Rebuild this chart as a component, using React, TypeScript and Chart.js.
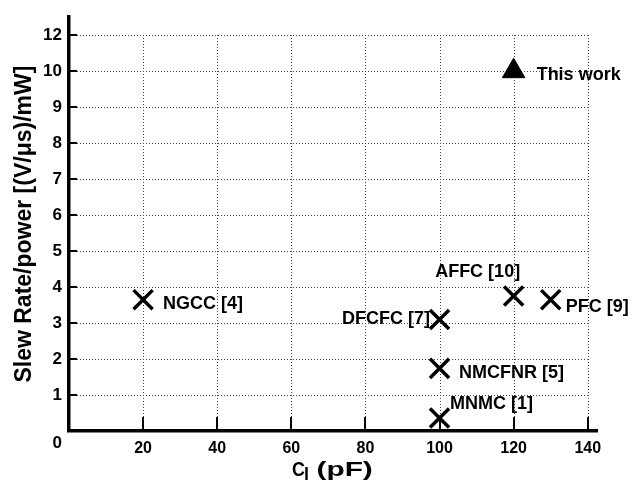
import React, { useEffect, useRef } from 'react';
import { Chart, registerables } from 'chart.js';

Chart.register(...registerables);

// ---- data ----
const priorNames = ['NGCC [4]', 'DFCFC [7]', 'NMCFNR [5]', 'MNMC [1]', 'AFFC [10]', 'PFC [9]'];
const priorCL = [20, 100, 100, 100, 120, 130];
const priorSR = [3.65, 3.1, 1.74, 0.36, 3.75, 3.65];

const thisWorkNames = ['This work'];
const thisWorkCL = [120];
const thisWorkSR = [10];

const xTickLabels = ['', '20', '40', '60', '80', '100', '120', '140'];
const yTickLabels = ['0', '1', '2', '3', '4', '5', '6', '7', '8', '9', '10', '12'];

const yTitle = 'Slew Rate/power [(V/\u03bcs)/mW]';
const xTitleMain = 'C';
const xTitleSub = 'l';
const xTitleUnit = '(pF)';

// ---- styling / placement (pixels relative to each mark) ----
const priorLabelPlacement = [
  { dx: 20, dy: 3, align: 'left' },
  { dx: -9.5, dy: -2, align: 'right' },
  { dx: 19.5, dy: 3.5, align: 'left' },
  { dx: 10.5, dy: -15, align: 'left' },
  { dx: -36, dy: -25, align: 'center' },
  { dx: 15, dy: 5.5, align: 'left' },
];
const thisWorkPlacement = [{ dx: 23, dy: 2.7, align: 'left' }];

const FONT = '"Liberation Sans", Arial, Helvetica, sans-serif';

const decor = {
  id: 'decor',
  beforeDatasetsDraw(chart: any) {
    const { ctx } = chart;
    const x = chart.scales.x;
    const y = chart.scales.y;
    const xt = x.ticks.map((t: any) => t.value);
    const yt = y.ticks.map((t: any) => t.value);
    const x0 = x.getPixelForValue(0);
    const x1 = x.getPixelForValue(xt[xt.length - 1]);
    const y0 = y.getPixelForValue(0);
    const y1 = y.getPixelForValue(yt[yt.length - 1]);
    ctx.save();
    ctx.strokeStyle = '#444';
    ctx.lineWidth = 1;
    ctx.setLineDash([1, 2]);
    for (const v of xt) {
      if (v === 0) continue;
      const px = Math.round(x.getPixelForValue(v)) + 0.5;
      ctx.beginPath();
      ctx.moveTo(px, y0 - 2);
      ctx.lineTo(px, y1);
      ctx.stroke();
    }
    for (const v of yt) {
      if (v === 0) continue;
      const py = Math.round(y.getPixelForValue(v)) + 0.5;
      ctx.beginPath();
      ctx.moveTo(x0 + 2, py);
      ctx.lineTo(x1, py);
      ctx.stroke();
    }
    ctx.setLineDash([]);
    ctx.strokeStyle = '#000';
    ctx.lineWidth = 2;
    for (const v of xt) {
      if (v === 0) continue;
      const px = Math.round(x.getPixelForValue(v));
      ctx.beginPath();
      ctx.moveTo(px, y0);
      ctx.lineTo(px, y0 - 14);
      ctx.stroke();
    }
    for (const v of yt) {
      if (v === 0) continue;
      const py = Math.round(y.getPixelForValue(v));
      ctx.beginPath();
      ctx.moveTo(x0, py);
      ctx.lineTo(x0 + 8, py);
      ctx.stroke();
    }
    ctx.restore();
  },
  afterDatasetsDraw(chart: any) {
    const { ctx } = chart;
    ctx.save();
    ctx.fillStyle = '#000';
    ctx.font = `bold 18px ${FONT}`;
    ctx.textBaseline = 'alphabetic';
    const drawLabels = (dsIndex: number, names: string[], place: any[]) => {
      const meta = chart.getDatasetMeta(dsIndex);
      meta.data.forEach((el: any, i: number) => {
        const p = place[i];
        ctx.textAlign = p.align;
        ctx.fillText(names[i], el.x + p.dx, el.y + p.dy + 6.4);
      });
    };
    drawLabels(0, priorNames, priorLabelPlacement);
    drawLabels(1, thisWorkNames, thisWorkPlacement);

    // x-axis title with subscript
    const ca = chart.chartArea;
    const base = 476;
    ctx.textAlign = 'left';
    let cx = 292;
    ctx.font = `bold 21px ${FONT}`;
    ctx.save();
    ctx.translate(cx, base);
    ctx.scale(0.85, 1);
    ctx.fillText(xTitleMain, 0, 0);
    const wC = ctx.measureText(xTitleMain).width * 0.85;
    ctx.restore();
    cx += wC - 1;
    ctx.font = `bold 18px ${FONT}`;
    ctx.fillText(xTitleSub, cx, base + 4);
    cx = 316.5;
    ctx.font = `bold 21px ${FONT}`;
    ctx.save();
    ctx.translate(cx, base);
    ctx.scale(1.42, 1);
    ctx.fillText(xTitleUnit, 0, 0);
    ctx.restore();
    void ca;
    ctx.restore();
  },
};

export default function App() {
  const ref = useRef<HTMLCanvasElement | null>(null);
  useEffect(() => {
    if (!ref.current) return;
    const chart = new Chart(ref.current, {
      type: 'scatter',
      data: {
        datasets: [
          {
            label: 'Prior works',
            data: priorCL.map((c, i) => ({ x: c, y: priorSR[i] })),
            pointStyle: 'crossRot',
            pointRadius: 13.5,
            pointBorderWidth: 3.5,
            borderColor: '#000',
            backgroundColor: '#000',
            clip: false,
          } as any,
          {
            label: 'This work',
            data: thisWorkCL.map((c, i) => ({ x: c, y: thisWorkSR[i] })),
            pointStyle: 'triangle',
            pointRadius: 13,
            pointBorderWidth: 1,
            borderColor: '#000',
            backgroundColor: '#000',
            clip: false,
          } as any,
        ],
      },
      options: {
        animation: false,
        responsive: false,
        devicePixelRatio: 1,
        layout: { padding: { top: 12, right: 37, left: 0, bottom: 0 } },
        plugins: { legend: { display: false }, tooltip: { enabled: false } },
        scales: {
          x: {
            type: 'linear',
            min: 0,
            max: 142.5,
            afterFit: (s: any) => { s.height = 51; },
            grid: { display: false, drawTicks: false },
            border: { display: true, color: '#000', width: 3.5 },
            ticks: {
              stepSize: 20,
              includeBounds: false,
              autoSkip: false,
              maxRotation: 0,
              padding: 8,
              color: '#000',
              font: { family: FONT, size: 16, weight: 'bold' },
              callback: (_v: any, i: number) => xTickLabels[i] ?? '',
            },
          },
          y: {
            type: 'linear',
            min: 0,
            max: 11.5,
            afterFit: (s: any) => { s.width = 69; },
            grid: { display: false, drawTicks: false },
            border: { display: true, color: '#000', width: 3.5 },
            title: {
              display: true,
              text: yTitle,
              color: '#000',
              font: { family: FONT, size: 23, weight: 'bold' },
              padding: { top: 11, bottom: 0 },
            },
            ticks: {
              stepSize: 1,
              includeBounds: false,
              autoSkip: false,
              padding: 7,
              color: '#000',
              font: (ctx: any) => ({
                family: FONT,
                size: 17,
                weight: 'bold',
                lineHeight: ctx.tick && ctx.tick.value === 0 ? 1.5 : 1.2,
              }),
              callback: (_v: any, i: number) => (i === 0 ? ['', yTickLabels[0]] : yTickLabels[i] ?? ''),
            },
          },
        },
      },
      plugins: [decor],
    } as any);
    return () => chart.destroy();
  }, []);
  return (
    <div style={{ position: 'fixed', left: 0, top: 0, width: 634, height: 482, background: '#fff' }}>
      <canvas ref={ref} width={634} height={482} style={{ display: 'block', width: 634, height: 482 }} />
    </div>
  );
}
